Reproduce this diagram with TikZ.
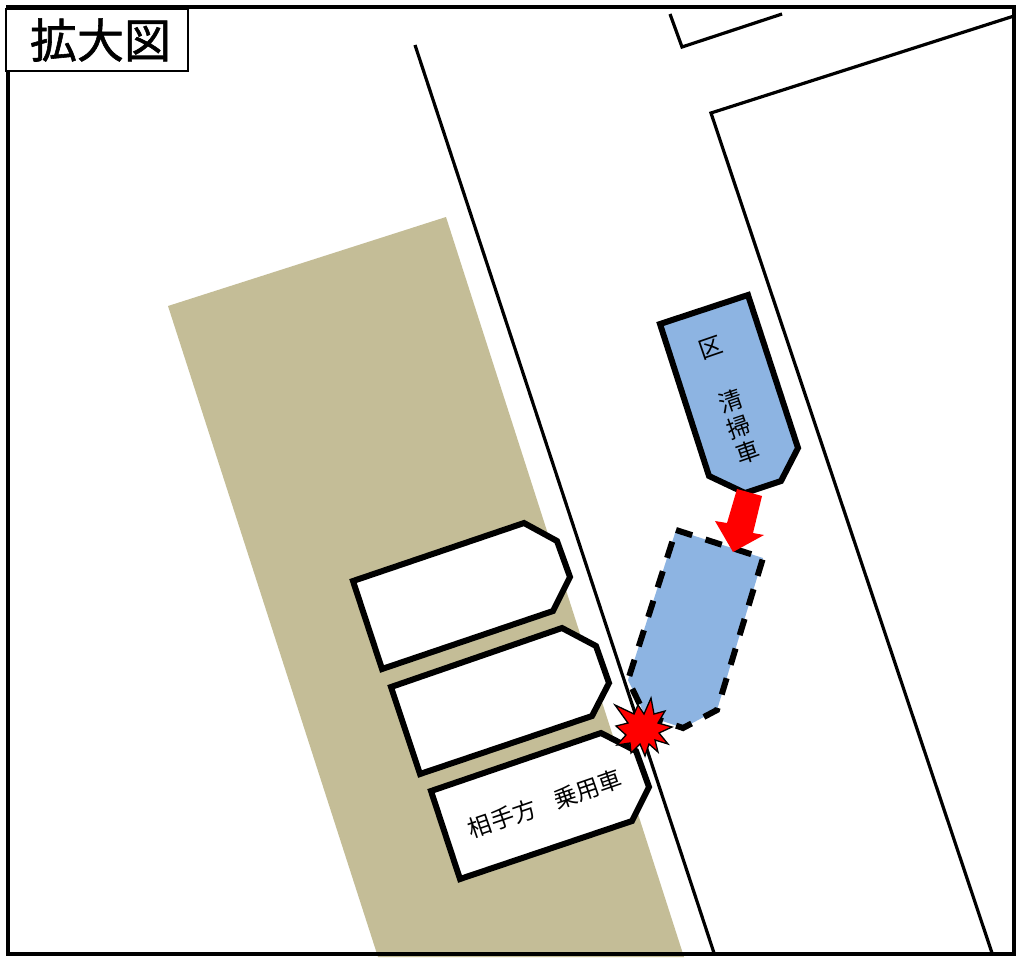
\documentclass[tikz,border=0pt]{standalone}
\usepackage{fontspec}
\setmainfont{Noto Sans CJK JP}
\newfontfamily\titlefont[FakeBold=1.2]{Noto Sans CJK JP}
\tikzset{
  vehicle/.style={draw=black,line width=6pt,line join=miter,miter limit=3},
  roadline/.style={draw=black,line width=3.2pt},
  label/.style={inner sep=0pt,font=\fontsize{23.5}{26.7}\selectfont,align=center,rotate=19},
}
\definecolor{tan}{RGB}{196,189,151}
\definecolor{blue}{RGB}{141,180,226}
\begin{document}
\begin{tikzpicture}[x=1pt,y=-1pt]
\useasboundingbox (0,0) rectangle (1016,958);
\fill[white] (0,0) rectangle (1016,958);
\fill[tan] (168,306) -- (446,217) -- (684,957) -- (378,957) -- cycle;
\coordinate (r1a) at (415,45);
\coordinate (r1b) at (714,953);
\draw[roadline] (r1a) -- (r1b);
\coordinate (r2a) at (670,14);
\coordinate (r2b) at (682,47);
\coordinate (r2c) at (782,14);
\draw[roadline] (r2a) -- (r2b) -- (r2c);
\coordinate (r3a) at (1014,16);
\coordinate (r3b) at (711,113);
\coordinate (r3c) at (992,953);
\draw[roadline] (r3a) -- (r3b) -- (r3c);
\draw[vehicle,fill=white] (353,581) -- (524,523) -- (557,541) -- (570,577) -- (553,611) -- (382,669) -- cycle;
\draw[vehicle,fill=white] (391,687) -- (562,628) -- (596,646) -- (609,683) -- (592,716) -- (420,774) -- cycle;
\draw[vehicle,fill=white] (431,791) -- (601,733) -- (636,751) -- (649,787) -- (632,821) -- (460,879) -- cycle;
\draw[vehicle,fill=blue] (660,324) -- (748,295) -- (798,448) -- (781,481) -- (745,493) -- (709,476) -- cycle;
\fill[blue] (676,530) -- (763,558) -- (717,710) -- (683,728) -- (645,715) -- (628,680) -- cycle;
\draw[line width=6pt,dash pattern=on 17pt off 14pt] (676,530) -- (763,558) -- (717,710) -- (683,728) -- (645,715) -- (628,680) -- cycle;
\fill[red] (737,489) -- (762,496) -- (753,533) -- (764,535) -- (733,552) -- (715,521) -- (727,523) -- cycle;
\draw[black,line width=1.3pt,fill=red,line join=miter]
 (615,705) -- (634,714) -- (638,705) -- (644,714) -- (651,698) -- (654,714) -- (665,711) -- (658,723)
 -- (672,727) -- (659,733) -- (668,744) -- (655,740) -- (658,752) -- (649,744) -- (645,756) -- (640,744) -- (631,753) -- (630,743) -- (617,745) -- (626,735) -- (616,726) -- (628,723) -- cycle;
\node[label] (n1) at (711,348) {区};
\node[label] (n2) at (739,427) {清\\掃\\車};
\node[label] (n3) at (545,804) {相手方\hspace{20pt}乗用車};
\draw[black,line width=4.4pt] (8,7) rectangle (1014,954);
\node[draw=black,line width=2.4pt,fill=white,inner sep=0pt,minimum width=182pt,minimum height=62pt,font=\fontsize{47}{47}\selectfont\titlefont] (title) at (97,40) {\hspace{7pt}拡大図};
\end{tikzpicture}
\end{document}
